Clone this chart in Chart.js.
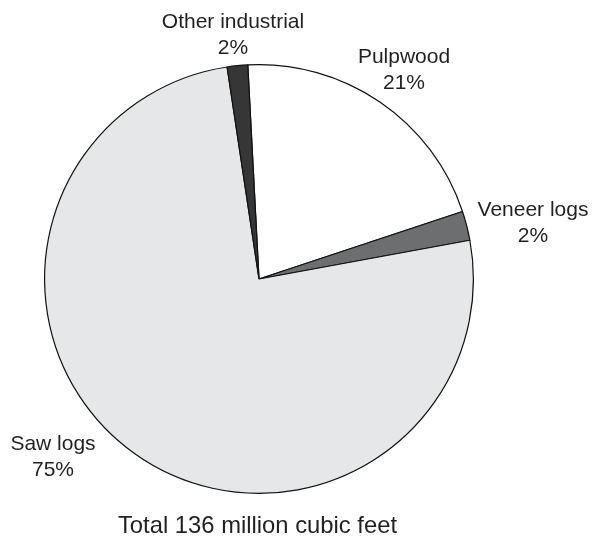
<!DOCTYPE html>
<html>
<head>
<meta charset="utf-8">
<script src="https://cdn.jsdelivr.net/npm/chart.js@4"></script>
<style>
  html, body { margin: 0; padding: 0; background: #fff; }
  canvas { display: block; }
</style>
</head>
<body>
<canvas id="myChart" width="592" height="539"></canvas>
<script>
// roundwood output by product, million cubic feet
const categories = ["Pulpwood", "Veneer logs", "Saw logs", "Other industrial"];
const values = [28.2, 3.0, 102.7, 2.1];
const percentLabels = ["21%", "2%", "75%", "2%"];
const totalText = "Total 136 million cubic feet";

const sliceColors = ["#ffffff", "#6d6e70", "#e6e7e8", "#363636"];

// where each label sits (text centre of first line)
const labelSpots = [
  [404, 57],
  [533, 210],
  [53, 444],
  [233, 22]
];

const FONT = '"Liberation Sans", Arial, Helvetica, sans-serif';

const labelPlugin = {
  id: "pieLabels",
  afterDraw(chart) {
    const ctx = chart.ctx;
    ctx.save();
    ctx.fillStyle = "#231f20";
    ctx.textAlign = "center";
    ctx.textBaseline = "middle";
    ctx.font = "21px " + FONT;
    categories.forEach((name, i) => {
      const [x, y] = labelSpots[i];
      ctx.fillText(name, x, y);
      ctx.fillText(percentLabels[i], x, y + 26);
    });
    ctx.font = "23.8px " + FONT;
    ctx.fillText(totalText, 257.5, 526);
    ctx.restore();
  }
};

var ctx = document.getElementById("myChart").getContext("2d");
var chart = new Chart(ctx, {
  type: "pie",
  data: {
    labels: categories,
    datasets: [
      {
        data: values,
        backgroundColor: sliceColors,
        borderColor: "#111111",
        borderWidth: 1.2,
      },
    ],
  },
  options: {
    responsive: false,
    animation: false,
    rotation: -3,
    layout: {
      padding: { left: 44, right: 118, top: 64, bottom: 45 },
    },
    plugins: {
      legend: { display: false },
      tooltip: { enabled: false },
    },
  },
  plugins: [labelPlugin],
});
</script>
</body>
</html>
